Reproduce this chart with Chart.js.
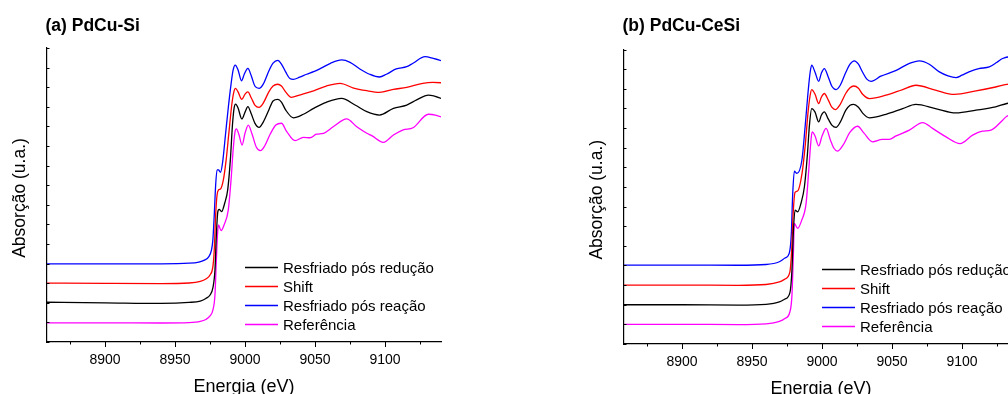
<!doctype html>
<html>
<head>
<meta charset="utf-8">
<title>XANES PdCu</title>
<style>
    html, body { margin: 0; padding: 0; background: #fff; }
    body { width: 1008px; height: 394px; overflow: hidden; position: relative; }
    .panel { position: absolute; top: 0; }
    #panelA { left: 0; }
    #panelB { left: 577px; }
</style>
</head>
<body>
<div class="panel" id="panelA"><canvas id="chartA" width="560" height="394"></canvas></div>
<div class="panel" id="panelB"><canvas id="chartB" width="560" height="394"></canvas></div>

<script src="https://cdn.jsdelivr.net/npm/chart.js"></script>
<script>
// tick values
const xMajorTicks = [8900, 8950, 9000, 9050, 9100];
const xMinorTicks = [8875, 8925, 8975, 9025, 9075, 9125];
const yTicks = [0, 1, 2, 3, 4, 5, 6, 7, 8, 9, 10, 11, 12, 13, 14, 15];

const seriesLabels = ['Resfriado pós redução', 'Shift', 'Resfriado pós reação', 'Referência'];
const seriesColors = ['#000000', '#ff0000', '#0000ff', '#ff00ff'];

// (a) PdCu-Si  -- energia (eV) / absorção (u.a., com deslocamento)
const aBlackE = [8855, 8900, 8940, 8960, 8968, 8972, 8975, 8977, 8978.5, 8979.5, 8980.5, 8981.5, 8983.2, 8985.5, 8987.6, 8989.5, 8991, 8992.2, 8993.3, 8995, 8997.7, 9000, 9002, 9004.5, 9007, 9010, 9013, 9017, 9020, 9023.4, 9026, 9029, 9034.5, 9041.7, 9049, 9058, 9069, 9078.6, 9087, 9096, 9106, 9115.5, 9122.6, 9131, 9145];
const aBlackA = [2.03, 2.0, 1.97, 2.02, 2.09, 2.22, 2.40, 2.76, 3.67, 5.46, 6.63, 6.77, 6.65, 7.09, 7.76, 9.29, 11.07, 11.94, 12.14, 11.94, 11.38, 11.73, 12.01, 11.63, 11.17, 10.95, 11.22, 11.84, 12.30, 12.38, 12.24, 11.84, 11.44, 11.62, 11.92, 12.23, 12.43, 12.09, 11.75, 11.58, 11.92, 12.09, 12.35, 12.60, 12.30];

const aRedE = [8855, 8900, 8940, 8960, 8968, 8972, 8975, 8977, 8978, 8979, 8980, 8981, 8982.5, 8984.5, 8986.5, 8988.5, 8990.5, 8992, 8993.2, 8995, 8997.7, 9000, 9002, 9004.5, 9007, 9010, 9013, 9017, 9020, 9023.4, 9026, 9029, 9033, 9039, 9049, 9058, 9068, 9077, 9087, 9096, 9106, 9115.5, 9127, 9134, 9145];
const aRedA = [3.01, 2.99, 2.98, 3.01, 3.09, 3.21, 3.42, 3.83, 4.69, 6.48, 7.50, 7.76, 7.81, 8.27, 9.29, 10.71, 12.09, 12.76, 12.94, 12.76, 12.38, 12.65, 12.76, 12.45, 12.09, 11.97, 12.19, 12.76, 13.06, 13.15, 13.06, 12.76, 12.48, 12.60, 12.81, 13.06, 13.20, 12.97, 12.82, 12.74, 12.89, 12.99, 13.20, 13.25, 13.20];

const aBlueE = [8855, 8900, 8940, 8960, 8967, 8971, 8974, 8976, 8977, 8978, 8979, 8980, 8981, 8982.5, 8984, 8986, 8988, 8990, 8991.5, 8993, 8995, 8997.5, 8999.5, 9002, 9004.5, 9007, 9010, 9013, 9017, 9020, 9023.4, 9026, 9029, 9032, 9034.5, 9039, 9044, 9049, 9054, 9061, 9069, 9075, 9082, 9089, 9096, 9101, 9108, 9115.5, 9120, 9128.6, 9134.5, 9145];
const aBlueA = [3.99, 3.99, 3.99, 4.02, 4.08, 4.18, 4.34, 4.69, 5.20, 6.48, 8.01, 8.78, 8.78, 8.66, 9.18, 10.56, 11.94, 13.16, 13.88, 14.13, 13.88, 13.33, 13.67, 13.96, 13.57, 13.06, 12.94, 13.16, 13.83, 14.23, 14.37, 14.18, 13.78, 13.44, 13.40, 13.51, 13.66, 13.79, 13.96, 14.22, 14.39, 14.27, 13.93, 13.66, 13.52, 13.66, 13.93, 14.05, 14.22, 14.56, 14.47, 14.25];

const aMagE = [8855, 8900, 8940, 8960, 8968, 8972, 8975, 8977, 8978.5, 8979.5, 8980.3, 8981, 8982.9, 8985, 8988, 8990, 8991.5, 8992.8, 8993.8, 8995.5, 8997.9, 9000, 9002.3, 9005, 9008, 9011, 9014, 9018, 9022, 9026, 9029.8, 9035.7, 9041.7, 9046.4, 9051, 9056, 9063, 9072.6, 9079.8, 9087, 9090.5, 9098.8, 9106, 9113, 9120, 9131, 9136, 9145];
const aMagA = [0.98, 0.98, 0.97, 0.99, 1.05, 1.15, 1.33, 1.63, 2.40, 4.18, 5.46, 5.97, 5.68, 5.97, 6.73, 8.27, 9.80, 10.71, 10.87, 10.61, 10.05, 10.66, 11.07, 10.61, 9.95, 9.76, 10.00, 10.61, 11.07, 11.16, 10.73, 10.27, 10.44, 10.42, 10.60, 10.65, 10.98, 11.38, 10.98, 10.65, 10.53, 10.19, 10.56, 10.82, 10.93, 11.62, 11.58, 11.35];

// (b) PdCu-CeSi
const bBlackE = [8855, 8900, 8940, 8960, 8969.5, 8973.5, 8977, 8978.5, 8979.5, 8980.7, 8982.6, 8985, 8987.4, 8989.5, 8991, 8992.6, 8995, 8997.6, 8999.5, 9001.6, 9004.5, 9007, 9010, 9013, 9017, 9020, 9022.6, 9026, 9029, 9033.8, 9045.7, 9057.6, 9067, 9081, 9095.7, 9110, 9124, 9132, 9145];
const bBlackA = [2.00, 2.00, 1.98, 2.02, 2.14, 2.29, 2.60, 3.77, 5.70, 6.82, 6.73, 7.18, 8.01, 9.62, 11.15, 11.99, 11.81, 11.31, 11.65, 11.82, 11.45, 11.15, 11.03, 11.30, 11.91, 12.16, 12.21, 12.06, 11.76, 11.52, 11.70, 11.99, 12.20, 11.99, 11.77, 11.91, 12.08, 12.25, 12.37];

const bRedE = [8855, 8900, 8940, 8960, 8969.5, 8973.5, 8977, 8978.3, 8979.3, 8980.7, 8982.5, 8985.7, 8988, 8990, 8991.5, 8992.6, 8995, 8997.6, 8999.5, 9001.6, 9004.5, 9007, 9009.5, 9013, 9017, 9020, 9022.6, 9026, 9029, 9033.8, 9045.7, 9057.6, 9067, 9081, 9094.5, 9110, 9124, 9132, 9145];
const bRedA = [3.00, 3.00, 2.99, 3.03, 3.16, 3.31, 3.66, 4.78, 6.56, 7.72, 7.79, 8.69, 10.13, 11.81, 12.67, 12.96, 12.72, 12.25, 12.57, 12.76, 12.42, 12.06, 11.94, 12.21, 12.77, 13.05, 13.14, 13.03, 12.72, 12.50, 12.67, 12.96, 13.18, 12.93, 12.71, 12.89, 13.09, 13.22, 13.28];

const bBlueE = [8855, 8900, 8940, 8960, 8969.5, 8973.5, 8976.6, 8978, 8979, 8980.2, 8982, 8985.6, 8988, 8990, 8991.5, 8992.6, 8995, 8997.6, 8999.5, 9001.6, 9004.5, 9007, 9010, 9013, 9017, 9020, 9023, 9026, 9029, 9032, 9035, 9042, 9053, 9062.4, 9069.5, 9076.6, 9083.8, 9090, 9095.7, 9100, 9105, 9112, 9119.5, 9125, 9129, 9134, 9145];
const bBlueA = [4.02, 4.02, 4.01, 4.05, 4.19, 4.38, 4.63, 5.55, 7.58, 8.80, 8.69, 9.36, 11.15, 12.82, 13.84, 14.20, 13.84, 13.38, 13.79, 14.03, 13.59, 13.13, 12.96, 13.18, 13.84, 14.25, 14.42, 14.25, 13.84, 13.49, 13.38, 13.64, 13.94, 14.29, 14.42, 14.25, 13.86, 13.66, 13.57, 13.69, 13.86, 14.03, 14.11, 14.35, 14.54, 14.63, 14.45];

const bMagE = [8855, 8900, 8940, 8960, 8969.5, 8973.5, 8977, 8978.5, 8979.5, 8980.2, 8982.6, 8985.5, 8988.6, 8990.5, 8991.8, 8992.9, 8995, 8997.6, 9000, 9002.9, 9006, 9008.5, 9011, 9015, 9020, 9025.4, 9030, 9036, 9043, 9048, 9052.9, 9062.4, 9071.9, 9079, 9088.6, 9098.6, 9107.6, 9114.7, 9120.7, 9129, 9132, 9145];
const bMagA = [1.00, 1.00, 0.99, 1.03, 1.15, 1.30, 1.63, 2.49, 4.53, 6.14, 5.89, 6.31, 7.16, 8.85, 10.13, 10.80, 10.59, 10.09, 10.59, 10.98, 10.38, 9.97, 9.82, 10.13, 10.79, 11.09, 10.74, 10.30, 10.42, 10.42, 10.60, 10.89, 11.28, 10.98, 10.55, 10.21, 10.64, 10.84, 10.89, 11.40, 11.60, 11.80];

const FONT = "'Liberation Sans', Arial, Helvetica, sans-serif";
const W = 560, H = 394;

function pts(e, a) {
    return e.map((v, i) => ({ x: v, y: a[i] }));
}

// desenha ticks, titulos e legenda
function decor(p) {
    return {
        id: 'decor',
        afterDraw(chart) {
            const ctx = chart.ctx;
            const ca = chart.chartArea;
            const x = chart.scales.x, y = chart.scales.y;
            ctx.save();
            ctx.strokeStyle = '#000';
            ctx.lineWidth = 1;
            ctx.beginPath();
            xMajorTicks.forEach(v => {
                const px = Math.round(x.getPixelForValue(v)) + 0.5;
                ctx.moveTo(px, ca.bottom); ctx.lineTo(px, ca.bottom + 5);
            });
            xMinorTicks.forEach(v => {
                const px = Math.round(x.getPixelForValue(v)) + 0.5;
                ctx.moveTo(px, ca.bottom); ctx.lineTo(px, ca.bottom + 2.5);
            });
            yTicks.forEach(v => {
                const py = Math.round(y.getPixelForValue(v)) + 0.5;
                ctx.moveTo(ca.left, py); ctx.lineTo(ca.left + 2.5, py);
            });
            ctx.stroke();

            ctx.fillStyle = '#000';
            ctx.font = 'bold 17.5px ' + FONT;
            ctx.textAlign = 'left';
            ctx.textBaseline = 'alphabetic';
            ctx.fillText(p.title, 45.5, 30.5);

            ctx.font = '18px ' + FONT;
            ctx.textAlign = 'center';
            ctx.fillText('Energia (eV)', (ca.left + ca.right) / 2, ca.bottom + 49.5);

            ctx.save();
            ctx.translate(20, (ca.top + ca.bottom) / 2 + 3);
            ctx.rotate(-Math.PI / 2);
            ctx.textBaseline = 'middle';
            ctx.font = '17.5px ' + FONT;
            ctx.fillText('Absorção (u.a.)', 0, 0);
            ctx.restore();

            // legenda
            ctx.font = '15px ' + FONT;
            ctx.textAlign = 'left';
            ctx.textBaseline = 'middle';
            chart.data.datasets.forEach((ds, i) => {
                const ly = Math.round(ca.bottom - 75.5 + 19 * i) + 0.5;
                ctx.strokeStyle = ds.borderColor;
                ctx.lineWidth = 1.3;
                ctx.beginPath();
                ctx.moveTo(ca.left + 198, ly);
                ctx.lineTo(ca.left + 231, ly);
                ctx.stroke();
                ctx.fillStyle = '#000';
                ctx.fillText(ds.label, ca.left + 236, ly + 1);
            });
            ctx.restore();
        }
    };
}

function makePanel(id, p) {
    const ctx = document.getElementById(id).getContext('2d');
    return new Chart(ctx, {
        type: 'line',
        data: {
            datasets: p.series.map((s, i) => ({
                label: seriesLabels[i],
                data: pts(s[0], s[1]),
                borderColor: seriesColors[i],
                borderWidth: 1.3,
                pointRadius: 0,
                fill: false,
                cubicInterpolationMode: 'monotone'
            }))
        },
        options: {
            responsive: false,
            animation: false,
            events: [],
            layout: { padding: { left: 0, top: p.top, right: W - p.right, bottom: 0 } },
            plugins: {
                legend: { display: false },
                title: { display: false },
                tooltip: { enabled: false }
            },
            scales: {
                x: {
                    type: 'linear',
                    min: 8858.5,
                    max: 9140,
                    afterBuildTicks: s => { s.ticks = xMajorTicks.map(v => ({ value: v })); },
                    afterFit: s => { s.height = H - p.bottom; },
                    grid: { display: false, drawTicks: false },
                    border: { display: true, color: '#000', width: 1.2 },
                    ticks: {
                        autoSkip: false,
                        maxRotation: 0,
                        padding: 9.5,
                        color: '#000',
                        font: { family: FONT, size: 14 },
                        callback: v => String(v)
                    }
                },
                y: {
                    min: 0,
                    max: 15,
                    afterFit: s => { s.width = p.left; },
                    grid: { display: false, drawTicks: false },
                    border: { display: true, color: '#000', width: 1.2 },
                    ticks: { display: false }
                }
            }
        },
        plugins: [decor(p)]
    });
}

makePanel('chartA', {
    title: '(a) PdCu-Si',
    left: 47, right: 441, top: 48, bottom: 342,
    series: [[aBlackE, aBlackA], [aRedE, aRedA], [aBlueE, aBlueA], [aMagE, aMagA]]
});

makePanel('chartB', {
    title: '(b) PdCu-CeSi',
    left: 47, right: 441, top: 49.5, bottom: 344,
    series: [[bBlackE, bBlackA], [bRedE, bRedA], [bBlueE, bBlueA], [bMagE, bMagA]]
});
</script>
</body>
</html>
